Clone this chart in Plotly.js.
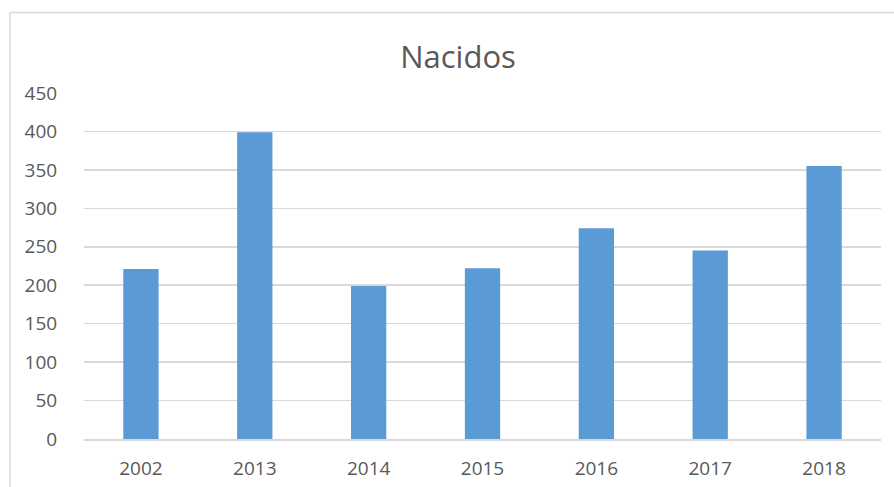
<!DOCTYPE html>
<html>
<head>
<meta charset="utf-8">
<script src="https://cdn.plot.ly/plotly-3.0.1.min.js"></script>
<style>
  html, body { margin: 0; padding: 0; background: #fff; }
  #chart { width: 894px; height: 487px; }
</style>
</head>
<body>
<div id="chart"></div>
<script>
const years = ['2002', '2013', '2014', '2015', '2016', '2017', '2018'];
const nacidos = [221, 399, 199, 222, 274, 245, 355];
const yTicks = [0, 50, 100, 150, 200, 250, 300, 350, 400, 450];

const chartDiv = document.getElementById('chart');

const data = [{
    type: 'bar',
    x: years,
    y: nacidos,
    marker: { color: '#5b9bd5' },
    hoverinfo: 'x+y'
}];

// Excel style chart frame (only left and top edges show in the picture)
const frameColor = '#d9d9d9';

const layout = {
    width: 894,
    height: 487,
    font: { family: 'Open Sans, Noto Sans, sans-serif', color: '#595959' },
    title: {
        text: 'Nacidos',
        font: { size: 31, color: '#595959', family: 'Open Sans, sans-serif', weight: 400 },
        x: 458 / 894,
        xanchor: 'center',
        y: 1 - 57 / 487,
        yanchor: 'middle'
    },
    margin: { l: 84, r: 13, t: 93, b: 48 },
    bargap: 0.69,
    showlegend: false,
    paper_bgcolor: '#fff',
    plot_bgcolor: '#fff',
    xaxis: {
        type: 'category',
        tickfont: { size: 19, color: '#595959' },
        ticks: 'outside',
        ticklen: 12,
        tickcolor: 'rgba(0,0,0,0)',
        showline: true,
        linecolor: '#d9d9d9',
        linewidth: 1.5,
        fixedrange: true
    },
    yaxis: {
        range: [0, 450],
        tickvals: yTicks,
        tickfont: { size: 19, color: '#595959' },
        ticks: 'outside',
        ticklen: 22,
        tickcolor: 'rgba(0,0,0,0)',
        gridcolor: '#d9d9d9',
        gridwidth: 1.5,
        zeroline: false,
        fixedrange: true
    },
    shapes: [
        { type: 'line', xref: 'paper', yref: 'paper',
          x0: (10 - 84) / 797, x1: 1.05, y0: (439 - 12.5) / 346, y1: (439 - 12.5) / 346,
          line: { color: frameColor, width: 1.5 } },
        { type: 'line', xref: 'paper', yref: 'paper',
          x0: (10 - 84) / 797, x1: (10 - 84) / 797, y0: -0.2, y1: (439 - 12.5) / 346,
          line: { color: frameColor, width: 1.5 } }
    ]
};

Plotly.newPlot(chartDiv, data, layout, { displayModeBar: false, staticPlot: true });
</script>
</body>
</html>
